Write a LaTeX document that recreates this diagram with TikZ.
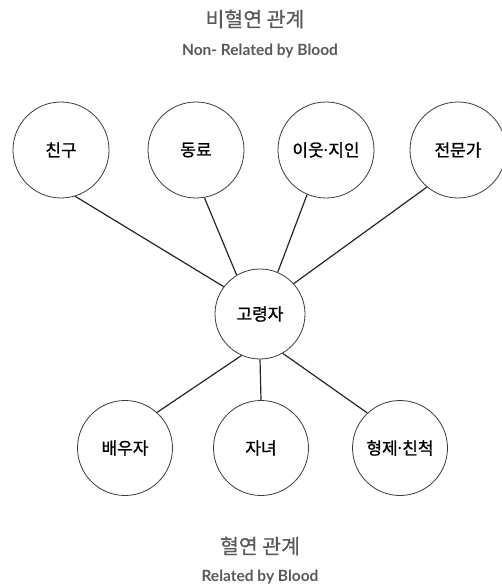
\documentclass[tikz,border=0pt]{standalone}
\usepackage{fontspec}
\newfontfamily\kr[FakeBold=1]{Noto Sans CJK KR}
\newfontfamily\krl[FakeBold=0.6]{Noto Sans CJK KR}
\newfontfamily\en{Lato}
\newfontfamily\dotfont{Noto Sans}
\newcommand{\mdot}{{\dotfont ·}}
\definecolor{titlegray}{HTML}{595959}
\definecolor{ringgray}{HTML}{3A3A3A}
\begin{document}
\begin{tikzpicture}[x=1pt,y=-1pt,
  person/.style={circle, draw=ringgray, line width=0.8pt, minimum size=96pt, inner sep=0pt, font=\kr\fontsize{17}{20}\selectfont, text=black},
  hub/.style={person, minimum size=90pt},
  kin/.style={person, minimum size=95pt},
  link/.style={draw=black!85, line width=1.2pt},
  ktitle/.style={font=\krl\fontsize{20.5}{23}\selectfont, text=titlegray},
  etitle/.style={font=\en\bfseries\fontsize{15.5}{18}\selectfont, text=titlegray}]
\useasboundingbox (0,0) rectangle (501,588);
\node[ktitle] (t1) at (255,19) {비혈연 관계};
\node[etitle] (t2) at (260,51) {Non- Related by Blood};
\node[ktitle] (t3) at (260,546) {혈연 관계};
\node[etitle] (t4) at (260,577) {Related by Blood};

\node[person] (f) at (61,150) {친구};
\node[person] (c) at (196,150) {동료};
\node[person] (n) at (326,150) {이웃\mdot 지인};
\node[person] (p) at (458,150) {전문가};
\node[hub] (e) at (260,314) {고령자};
\node[kin] (s) at (125,448) {배우자};
\node[kin] (k) at (261,448) {자녀};
\node[kin] (r) at (400,448) {형제\mdot 친척};

\draw[link] (f.-73) -- (e.143);
\draw[link] (c.-80) -- (e.121);
\draw[link] (n.-113) -- (e.67);
\draw[link] (p.-130) -- (e.42);
\draw[link] (s.48) -- (e.-114);
\draw[link] (k.north) -- (e.south);
\draw[link] (r.133) -- (e.-60);
\end{tikzpicture}
\end{document}
